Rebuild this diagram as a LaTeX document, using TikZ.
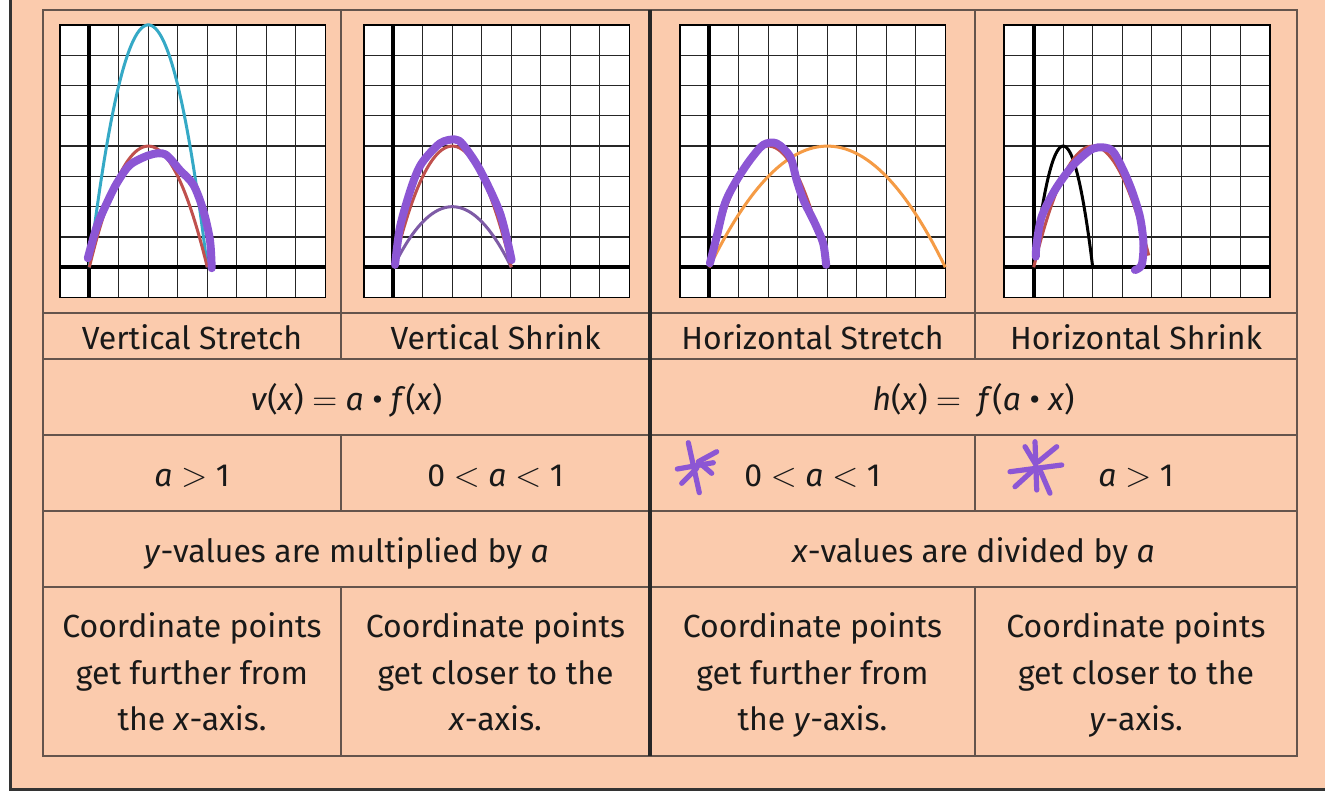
\documentclass[tikz,border=0pt]{standalone}
\usepackage{fontspec}
\setmainfont{Fira Sans}
\definecolor{peach}{RGB}{251,203,173}
\definecolor{cellgray}{RGB}{100,84,76}
\definecolor{penpurple}{RGB}{140,86,212}
\definecolor{redcurve}{RGB}{192,80,77}
\definecolor{cyancurve}{RGB}{53,169,198}
\definecolor{orangecurve}{RGB}{245,155,69}
\definecolor{lavender}{RGB}{126,91,166}
\begin{document}
\begin{tikzpicture}[x=0.5pt,y=-0.5pt,cellline/.style={draw=cellgray,line width=0.8pt},divider/.style={draw=black!85,line width=1.6pt},frame/.style={draw=black!80,line width=1.5pt},gridline/.style={draw=black!85,line width=0.6pt},axis/.style={line width=2pt},curve/.style={line width=1.5pt,smooth,samples=60},pen/.style={draw=penpurple,line width=4pt,line cap=round,line join=round},starpen/.style={draw=penpurple,line width=2.6pt,line cap=round},celltext/.style={font=\fontsize{16}{23.3}\selectfont,align=center,text=black!90,execute at begin node=\strut,execute at end node=\strut},panel/.style={shift={(#1,267.3)},x=14.75pt,y=15.15pt}]
\useasboundingbox (0,0) rectangle (1325,791); \clip (0,0) rectangle (1325,791);
\fill[white] (0,0) rectangle (1325,791); \fill[peach] (10,0) rectangle (1325,789);
\draw[frame] (10,0) -- (10,789) -- (1325,789);
% table
\draw[cellline] (43,10) rectangle (1297,756);
\foreach \y in {313,359,435,511,587} \draw[cellline] (43,\y) -- (1297,\y);
\foreach \x in {341,975} { \draw[cellline] (\x,10) -- (\x,359); \draw[cellline] (\x,435) -- (\x,511); \draw[cellline] (\x,587) -- (\x,756); }
\draw[divider] (650,10) -- (650,756);
% grids
\foreach \ox in {89.3,393.3,709.3,1033.7} {
\begin{scope}[panel=\ox]
\fill[white] (-1,-1) rectangle (8,8); \draw[gridline,step={(1,1)}] (-1,-1) grid (8,8); \draw[black,line width=0.8pt] (-1,-1) rectangle (8,8);
\draw[axis] (-1,0) -- (8,0); \draw[axis] (0,-1) -- (0,8);
\end{scope}}
% vertical stretch
\begin{scope}[panel=89.3]
\draw[curve,cyancurve,domain=0:4] plot (\x,{2*\x*(4-\x)}); \draw[curve,redcurve,domain=0:4] plot (\x,{\x*(4-\x)});
\draw[pen] plot[smooth] coordinates {(-0.05,0.3) (0.25,1.34) (0.59,2.11) (0.93,2.77) (1.38,3.38) (2.06,3.71) (2.57,3.73) (3.07,3.21) (3.53,2.72) (3.86,1.89) (4.09,0.9) (4.15,-0.03)};
\end{scope}
% vertical shrink
\begin{scope}[panel=393.3]
\draw[curve,lavender,domain=0:4] plot (\x,{0.5*\x*(4-\x)}); \draw[curve,redcurve,domain=0:4] plot (\x,{\x*(4-\x)});
\draw[pen] plot[smooth] coordinates {(0.06,0.08) (0.23,1.34) (0.62,2.66) (0.96,3.43) (1.58,4.09) (2.09,4.22) (2.37,4.04) (2.94,3.21) (3.62,1.78) (4.01,0.24)};
\end{scope}
% horizontal stretch
\begin{scope}[panel=709.3]
\draw[curve,orangecurve,domain=0:8] plot (\x,{(\x/2)*(4-\x/2)}); \draw[curve,redcurve,domain=0:4] plot (\x,{\x*(4-\x)});
\draw[pen] plot[smooth] coordinates {(0.02,0.13) (0.25,1.01) (0.53,2.11) (0.93,2.88) (1.38,3.54) (1.83,4.04) (2.28,4.09) (2.74,3.65) (2.96,2.88) (3.19,2.22) (3.58,1.45) (3.86,0.79) (3.96,0.08)};
\end{scope}
% horizontal shrink
\begin{scope}[panel=1033.7]
\draw[curve,black,domain=0:2] plot (\x,{2*\x*(4-2*\x)}); \draw[curve,redcurve,domain=0:3.9] plot (\x,{\x*(4-\x)});
\draw[pen] plot[smooth] coordinates {(0.07,0.35) (0.1,0.79) (0.27,1.67) (0.72,2.55) (1.29,3.32) (1.85,3.82) (2.19,3.96) (2.64,3.87) (2.98,3.32) (3.32,2.55) (3.6,1.67) (3.72,0.79) (3.66,0.08) (3.43,-0.09)};
\end{scope}
% labels
\node[celltext] (vstretch) at (192,340) {Vertical Stretch}; \node[celltext] (vshrink) at (495.5,340) {Vertical Shrink};
\node[celltext] (hstretch) at (812.5,340) {Horizontal Stretch}; \node[celltext] (hshrink) at (1136,340) {Horizontal Shrink};
\node[celltext] (vrule) at (346.5,401) {\textit{v}(\textit{x}) $=$ \textit{a} • \textit{f}(\textit{x})};
\node[celltext] (hrule) at (973.5,401) {\textit{h}(\textit{x}) $=$ \ \textit{f}(\textit{a} • \textit{x})};
\node[celltext] (vsa) at (192,477) {\textit{a} $>$ 1}; \node[celltext] (vha) at (495.5,477) {0 $<$ \textit{a} $<$ 1};
\node[celltext] (hsa) at (812.5,477) {0 $<$ \textit{a} $<$ 1}; \node[celltext] (hha) at (1136,477) {\textit{a} $>$ 1};
\node[celltext] (vvalues) at (346.5,553) {\textit{y}-values are multiplied by \textit{a}};
\node[celltext] (hvalues) at (973.5,553) {\textit{x}-values are divided by \textit{a}};
\node[celltext] (vsdesc) at (192,678.5) {Coordinate points\\get further from\\the \textit{x}-axis.};
\node[celltext] (vhdesc) at (495.5,678.5) {Coordinate points\\get closer to the\\\textit{x}-axis.};
\node[celltext] (hsdesc) at (812.5,678.5) {Coordinate points\\get further from\\the \textit{y}-axis.};
\node[celltext] (hhdesc) at (1136,678.5) {Coordinate points\\get closer to the\\\textit{y}-axis.};
% stars
\draw[starpen] (688.3,442.7) -- (699.3,492.7); \draw[starpen] (677.3,469) -- (713.3,462.7); \draw[starpen] (698.3,461.7) -- (716.7,451.7); \draw[starpen] (696.7,468.3) -- (681.7,483.3); \draw[starpen] (700,463.3) -- (711.7,473.3);
\draw[starpen] (1035,441.7) -- (1036.7,490); \draw[starpen] (1010,471.7) -- (1061.7,465); \draw[starpen] (1038.3,461.7) -- (1056.7,446.7); \draw[starpen] (1025,446.7) -- (1035,463.3); \draw[starpen] (1033.3,470) -- (1015,486.7); \draw[starpen] (1040,470) -- (1050,493.3);
\end{tikzpicture}
\end{document}
